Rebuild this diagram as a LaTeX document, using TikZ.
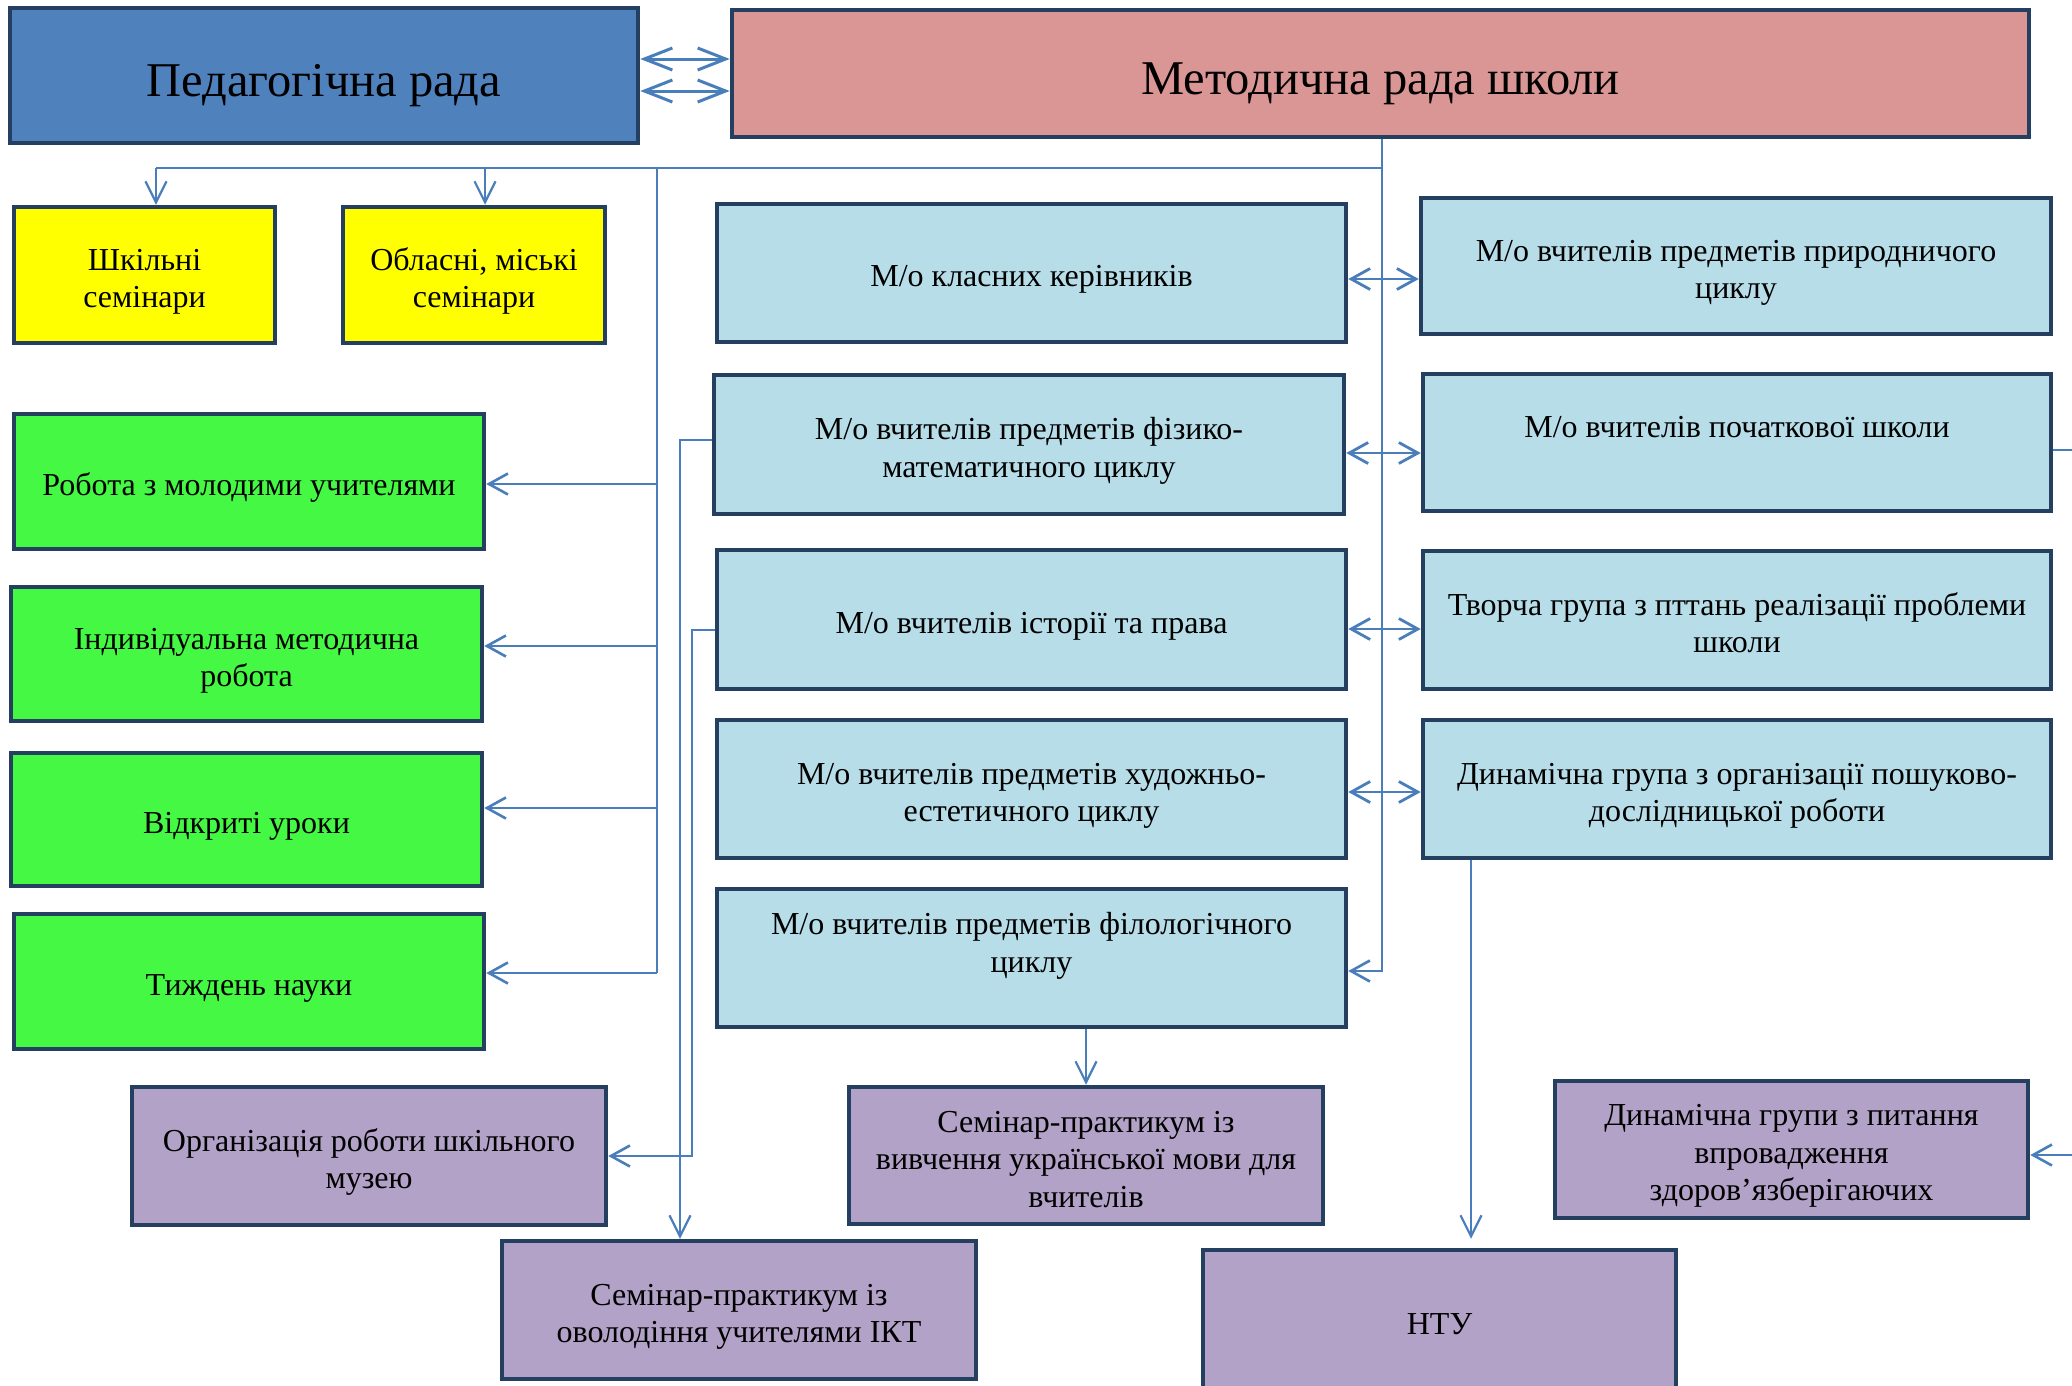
\documentclass[tikz,border=0pt]{standalone}
\usepackage{fontspec}
\setmainfont{Liberation Serif}
\usetikzlibrary{arrows.meta}
\definecolor{bord}{HTML}{243F60}
\definecolor{conncol}{HTML}{4A7EBB}
\definecolor{pedblue}{HTML}{4F81BD}
\definecolor{metpink}{HTML}{D99694}
\definecolor{yel}{HTML}{FFFF00}
\definecolor{grn}{HTML}{44F844}
\definecolor{lblue}{HTML}{B7DDE8}
\definecolor{purp}{HTML}{B2A2C7}
\newcommand\topstrut{\rule{0pt}{1.08em}}
\newcommand\botstrut{\rule[-0.2em]{0pt}{0.2em}}
\begin{document}
\begin{tikzpicture}[x=1pt,y=-1pt,
 box/.style={draw=bord, line width=4.5pt, rectangle, align=center, inner sep=0pt,
   font=\fontsize{32}{37.5}\selectfont, text=black},
 head/.style={box, font=\fontsize{48.5}{56}\selectfont},
 conn/.style={draw=conncol, line width=2.2pt},
 arr/.style={conn, line width=2.6pt, -{Straight Barb[length=19pt,width=21pt]}},
 varr/.style={conn, -{Straight Barb[length=21pt,width=21pt]}},
 darr/.style={conn, line width=2.8pt, {Straight Barb[length=19pt,width=21pt]}-{Straight Barb[length=19pt,width=21pt]}},
 tarr/.style={conn, line width=3pt, {Straight Barb[length=28pt,width=22pt]}-{Straight Barb[length=28pt,width=22pt]}},
]
\fill[white] (0,0) rectangle (2072,1385);
\useasboundingbox (0,0) rectangle (2072,1385);

% header boxes
\node[head, fill=pedblue, minimum width=628pt, minimum height=135pt] (ped) at (324,75.5) {\topstrut Педагогічна рада\botstrut};
\node[head, fill=metpink, minimum width=1297pt, minimum height=127pt] (met) at (1380.5,73.5) {\topstrut Методична рада школи\botstrut};

% yellow
\node[box, fill=yel, minimum width=261pt, minimum height=136pt] (sch) at (144.5,275) {\topstrut Шкільні\\семінари\botstrut};
\node[box, fill=yel, minimum width=262pt, minimum height=136pt] (obl) at (474,275) {\topstrut Обласні, міські\\семінари\botstrut};

% green
\node[box, fill=grn, minimum width=470pt, minimum height=135pt] (g1) at (249,481.5) {\topstrut Робота з молодими учителями\botstrut};
\node[box, fill=grn, minimum width=471pt, minimum height=134pt] (g2) at (246.5,654) {\topstrut Індивідуальна методична\\робота\botstrut};
\node[box, fill=grn, minimum width=471pt, minimum height=133pt] (g3) at (246.5,819.5) {\topstrut Відкриті уроки\botstrut};
\node[box, fill=grn, minimum width=470pt, minimum height=135pt] (g4) at (249,981.5) {\topstrut Тиждень науки\botstrut};

% middle column
\node[box, fill=lblue, minimum width=629pt, minimum height=138pt] (m1) at (1031.5,273) {\topstrut М/о класних керівників\botstrut};
\node[box, fill=lblue, minimum width=630pt, minimum height=139pt] (m2) at (1029,444.5) {\topstrut М/о вчителів предметів фізико-\\математичного циклу\botstrut};
\node[box, fill=lblue, minimum width=629pt, minimum height=139pt] (m3) at (1031.5,619.5) {\topstrut М/о вчителів історії та права\botstrut};
\node[box, fill=lblue, minimum width=629pt, minimum height=138pt] (m4) at (1031.5,789) {\topstrut М/о вчителів предметів художньо-\\естетичного циклу\botstrut};
\node[box, fill=lblue, minimum width=629pt, minimum height=138pt] (m5) at (1031.5,958) {\topstrut М/о вчителів предметів філологічного\\циклу\\~\botstrut};

% right column
\node[box, fill=lblue, minimum width=630pt, minimum height=136pt] (r1) at (1736,266) {\topstrut М/о вчителів предметів природничого\\циклу\botstrut};
\node[box, fill=lblue, minimum width=628pt, minimum height=137pt] (r2) at (1737,442.5) {\topstrut М/о вчителів початкової школи\\~\botstrut};
\node[box, fill=lblue, minimum width=628pt, minimum height=138pt] (r3) at (1737,620) {\topstrut Творча група з пттань реалізації проблеми\\школи\botstrut};
\node[box, fill=lblue, minimum width=628pt, minimum height=138pt] (r4) at (1737,789) {\topstrut Динамічна група з організації пошуково-\\дослідницької роботи\botstrut};

% purple
\node[box, fill=purp, minimum width=474pt, minimum height=138pt] (p1) at (369,1156) {\topstrut Організація роботи шкільного\\музею\botstrut};
\node[box, fill=purp, minimum width=474pt, minimum height=137pt] (p2) at (1086,1155.5) {\topstrut Семінар-практикум із\\вивчення української мови для\\вчителів\botstrut};
\node[box, fill=purp, minimum width=473pt, minimum height=137pt] (p3) at (1791.5,1149.5) {\topstrut Динамічна групи з питання\\впровадження\\здоров’язберігаючих\botstrut};
\node[box, fill=purp, minimum width=474pt, minimum height=138pt] (p4) at (739,1310) {\topstrut Семінар-практикум із\\оволодіння учителями ІКТ\botstrut};
\node[box, fill=purp, minimum width=473pt, minimum height=140pt] (p5) at (1439.5,1320) {\topstrut НТУ\botstrut};

% helper coordinates
\coordinate (ya) at (0,59);
\coordinate (yb) at (0,91);
\coordinate (tR) at (1382,168);
\coordinate (hL) at (156,168);
\coordinate (hO) at (485,168);
\coordinate (tL) at (657,168);
\coordinate (y5) at (0,971);
\coordinate (yg1) at (0,484);
\coordinate (yg2) at (0,646);
\coordinate (yg3) at (0,808);
\coordinate (yg4) at (0,973);
\coordinate (ikt) at (680,440);
\coordinate (mus) at (692,630);
\coordinate (nt) at (1471,0);
\coordinate (yd1) at (0,279);
\coordinate (yd2) at (0,453);
\coordinate (yd3) at (0,629);
\coordinate (yd4) at (0,792);
\coordinate (edge1) at (2072,450);
\coordinate (edge2) at (2072,1155);

% top double arrows
\draw[tarr] (ped.east |- ya) -- (met.west |- ya);
\draw[tarr] (ped.east |- yb) -- (met.west |- yb);

% top distribution
\draw[conn] (met.south -| tR) -- (tR) -- (hL);
\draw[arr] (tR) -- (tR |- y5) -- (m5.east |- y5);
\draw[varr] (hL) -- (hL |- sch.north);
\draw[varr] (hO) -- (hO |- obl.north);

% left trunk
\draw[conn] (tL) -- (tL |- yg4);
\draw[arr] (tL |- yg1) -- (g1.east |- yg1);
\draw[arr] (tL |- yg2) -- (g2.east |- yg2);
\draw[arr] (tL |- yg3) -- (g3.east |- yg3);
\draw[arr] (tL |- yg4) -- (g4.east |- yg4);

% middle to bottom
\draw[varr] (m2.west |- ikt) -- (ikt) -- (ikt |- p4.north);
\draw[arr] (m3.west |- mus) -- (mus) -- (mus |- p1.east) -- (p1.east);
\draw[varr] (m5.south -| p2.north) -- (p2.north);
\draw[varr, shorten >=9pt] (r4.south -| nt) -- (p5.north -| nt);

% middle-right double arrows
\draw[darr] (m1.east |- yd1) -- (r1.west |- yd1);
\draw[darr] (m2.east |- yd2) -- (r2.west |- yd2);
\draw[darr] (m3.east |- yd3) -- (r3.west |- yd3);
\draw[darr] (m4.east |- yd4) -- (r4.west |- yd4);

% right edge
\draw[conn] (r2.east |- edge1) -- (edge1);
\draw[arr] (edge2) -- (p3.east |- edge2);
\end{tikzpicture}
\end{document}
